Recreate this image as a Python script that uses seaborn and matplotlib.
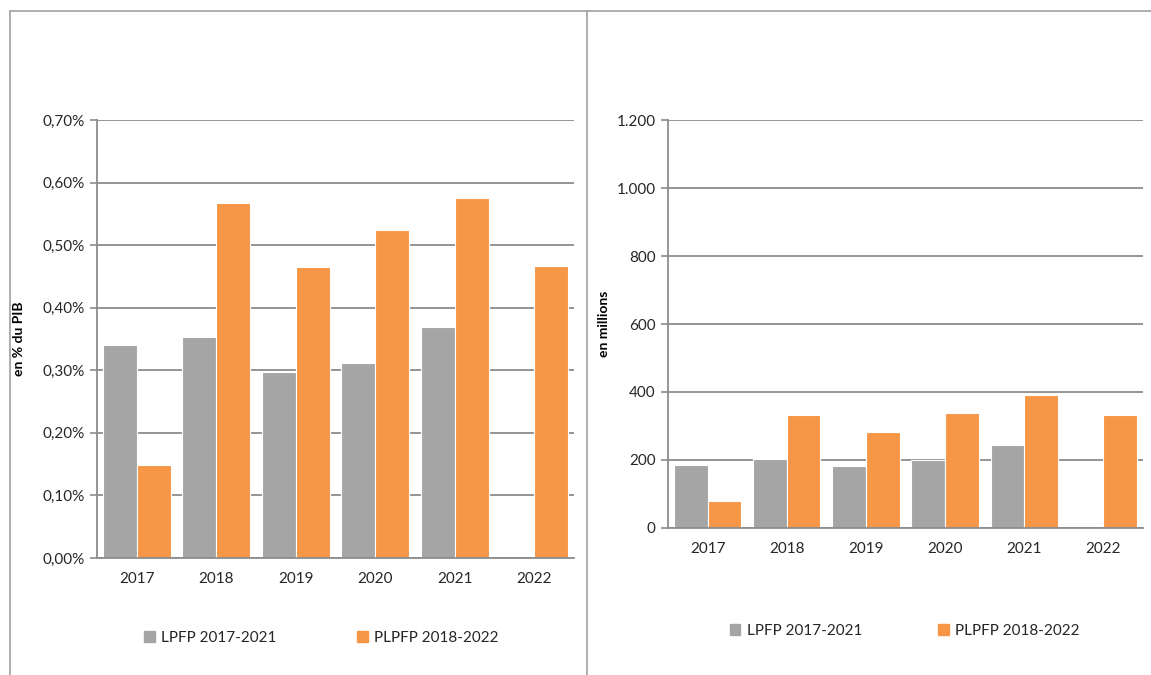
import matplotlib
matplotlib.use("Agg")
import matplotlib.pyplot as plt
from matplotlib.lines import Line2D
from matplotlib.ticker import FuncFormatter, FixedLocator
import numpy as np
import pandas as pd
import seaborn as sns

years = ["2017", "2018", "2019", "2020", "2021", "2022"]
series_names = ["LPFP 2017-2021", "PLPFP 2018-2022"]
pct_lpfp = [0.340, 0.353, 0.297, 0.312, 0.370, np.nan]
pct_plpfp = [0.148, 0.567, 0.465, 0.525, 0.575, 0.467]
mil_lpfp = [186, 204, 181, 201, 243, np.nan]
mil_plpfp = [79, 333, 283, 338, 390, 333]
left_ylabel = "en % du PIB"
right_ylabel = "en millions"

colors = ["#A5A5A5", "#F79646"]
grid_col = "#8C8C8C"
text_col = "#262626"

sns.set_theme(style="white")
plt.rcParams["font.family"] = ["Lato", "DejaVu Sans"]

def long_df(a, b):
    return pd.DataFrame({
        "year": years * 2,
        "value": list(a) + list(b),
        "series": [series_names[0]] * len(years) + [series_names[1]] * len(years),
    })

fig = plt.figure(figsize=(11.51, 6.75), dpi=100)
axL = fig.add_axes([0.0843, 0.1733, 0.4144, 0.6489])
axR = fig.add_axes([0.5804, 0.2178, 0.4127, 0.6044])

def style(ax, df, ymax, step, fmt, ylabel, lx, leg_y, leg_x, colsp):
    sns.barplot(data=df, x="year", y="value", hue="series", order=years,
                hue_order=series_names, palette=colors, saturation=1,
                width=0.85, edgecolor="white", linewidth=0.8,
                errorbar=None, ax=ax, zorder=3)
    if ax.get_legend() is not None:
        ax.get_legend().remove()
    ax.set_xlim(-0.5, len(years) - 0.5)
    ax.set_ylim(0, ymax)
    ticks = np.arange(0, ymax + step / 2, step)
    ax.yaxis.set_major_locator(FixedLocator(ticks))
    ax.yaxis.set_major_formatter(FuncFormatter(fmt))
    ax.grid(axis="y", color=grid_col, linewidth=1.3, zorder=0)
    ax.grid(axis="x", visible=False)
    ax.set_axisbelow(True)
    for s in ["top", "right"]:
        ax.spines[s].set_visible(False)
    for s in ["left", "bottom"]:
        ax.spines[s].set_color(grid_col)
        ax.spines[s].set_linewidth(1.3)
        ax.spines[s].set_zorder(5)
    ax.set_xticks(np.arange(-0.5, len(years)), minor=True)
    ax.tick_params(axis="x", which="major", length=0, pad=10, labelsize=11, labelcolor=text_col)
    ax.tick_params(axis="x", which="minor", length=5, color=grid_col, width=1.2, direction="out")
    ax.tick_params(axis="y", which="major", length=5, color=grid_col, width=1.2, direction="out",
                   labelsize=11, labelcolor=text_col, pad=4, left=True)
    ax.set_xlabel("")
    ax.set_ylabel(ylabel, fontsize=10, fontweight="bold", color="black")
    ax.yaxis.set_label_coords(lx, 0.5)
    handles = [plt.Rectangle((0, 0), 1, 1, color=c) for c in colors]
    fig.legend(handles, series_names, loc="center", bbox_to_anchor=(leg_x, leg_y),
               ncol=2, frameon=False, fontsize=11, handlelength=0.7, handleheight=0.7,
               handletextpad=0.4, columnspacing=colsp, labelcolor=text_col)

style(axL, long_df(pct_lpfp, pct_plpfp), 0.70, 0.10,
      lambda v, p: f"{v:.2f}%".replace(".", ","), left_ylabel, -0.151, 0.0548, 0.279, 5.3)
style(axR, long_df(mil_lpfp, mil_plpfp), 1200, 200,
      lambda v, p: f"{int(round(v)):,}".replace(",", "."), right_ylabel, -0.122, 0.0652, 0.786, 5.0)

# panel frame lines
lc = "#A0A0A0"
fig.add_artist(Line2D([0.0087, 1.0], [0.9837, 0.9837], color=lc, linewidth=1.2, transform=fig.transFigure))
fig.add_artist(Line2D([0.0087, 0.0087], [0.0, 0.9837], color=lc, linewidth=1.2, transform=fig.transFigure))
fig.add_artist(Line2D([0.51, 0.51], [0.0, 0.9837], color=lc, linewidth=1.2, transform=fig.transFigure))

fig.savefig("out.png", dpi=100, facecolor="white")
